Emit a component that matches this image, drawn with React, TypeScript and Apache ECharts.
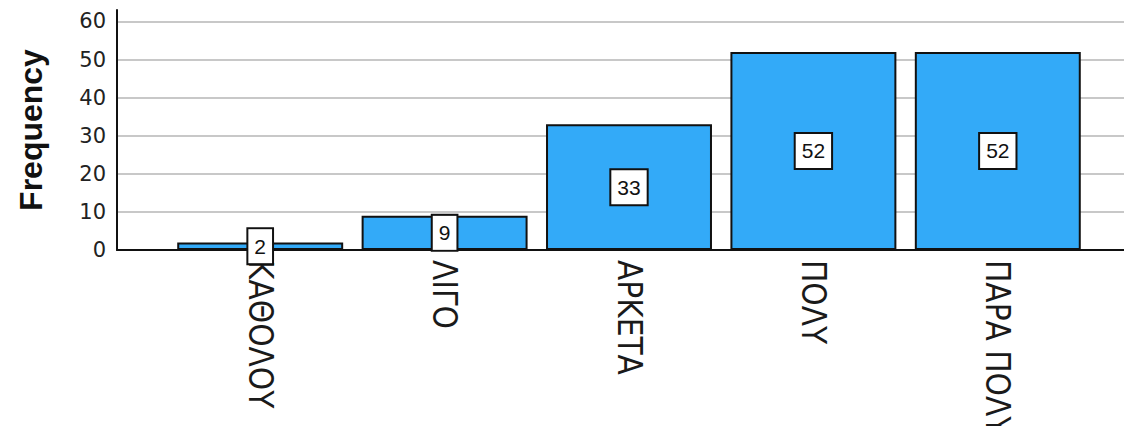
import React, { useEffect, useRef } from "react";
import * as echarts from "echarts";

// Response categories and their frequencies
const categories = ["ΚΑΘΟΛΟΥ", "ΛΙΓΟ", "ΑΡΚΕΤΑ", "ΠΟΛΥ", "ΠΑΡΑ ΠΟΛΥ"];
const frequencies = [2, 9, 33, 52, 52];

// Value axis settings
const yMin = 0;
const yMax = 63;
const yInterval = 10;

const FONT = "'Liberation Sans', Arial, sans-serif";
const NARROW = "'DejaVu Sans Condensed', 'Liberation Sans Narrow', sans-serif";
const WIDE = "'DejaVu Sans', Verdana, sans-serif";

export default function App() {
  const ref = useRef<HTMLDivElement>(null);

  useEffect(() => {
    if (!ref.current) return;
    const chart = echarts.init(ref.current, null, { renderer: "svg" });

    chart.setOption({
      animation: false,
      backgroundColor: "#ffffff",
      grid: [
        // frame grid: axis lines, gridlines and tick labels across the full width
        { left: 117, right: 0, top: 10, bottom: 184, outerBoundsMode: "none", containLabel: false },
        // bar grid: inset like the SPSS plot area
        { left: 168, right: 42, top: 10, bottom: 184, outerBoundsMode: "none", containLabel: false },
      ],
      xAxis: [
        {
          gridIndex: 0,
          type: "value",
          min: 0,
          max: 1,
          axisLine: { show: true, onZero: false, lineStyle: { color: "#111", width: 2 } },
          axisTick: { show: false },
          axisLabel: { show: false },
          splitLine: { show: false },
        },
        {
          gridIndex: 1,
          type: "category",
          data: categories,
          axisLine: { show: false },
          axisTick: { show: false },
          axisLabel: {
            rotate: -90,
            margin: 10,
            fontSize: 33,
            fontFamily: NARROW,
            color: "#1a1a1a",
            padding: [8, 0, 0, 0],
          },
        },
      ],
      yAxis: [
        {
          gridIndex: 0,
          type: "value",
          min: yMin,
          max: yMax,
          interval: yInterval,
          name: "Frequency",
          nameLocation: "middle",
          nameRotate: 90,
          nameGap: 70,
          nameTextStyle: {
            fontSize: 32,
            fontWeight: "bold",
            fontFamily: FONT,
            color: "#111",
          },
          axisLine: { show: true, lineStyle: { color: "#111", width: 2 } },
          axisTick: { show: false },
          axisLabel: {
            fontSize: 21,
            fontFamily: WIDE,
            color: "#222",
            margin: 11,
            showMaxLabel: false,
          },
          splitLine: {
            show: true,
            showMinLine: false,
            showMaxLine: false,
            lineStyle: { color: "#c8c8c8", width: 2 },
          },
        },
        {
          gridIndex: 1,
          type: "value",
          min: yMin,
          max: yMax,
          interval: yInterval,
          show: false,
          splitLine: { show: false },
        },
      ],
      series: [
        {
          type: "bar",
          xAxisIndex: 1,
          yAxisIndex: 1,
          data: frequencies,
          barCategoryGap: "10%",
          itemStyle: {
            color: "#33aaf8",
            borderColor: "#111",
            borderWidth: 2,
          },
          label: {
            show: true,
            position: "inside",
            fontSize: 21,
            fontFamily: FONT,
            color: "#111",
            backgroundColor: "#ffffff",
            borderColor: "#111",
            borderWidth: 2,
            padding: [7, 6, 6, 6],
          },
        },
      ],
    });

    return () => chart.dispose();
  }, []);

  return <div ref={ref} style={{ width: 1132, height: 434, margin: -8 }} />;
}
